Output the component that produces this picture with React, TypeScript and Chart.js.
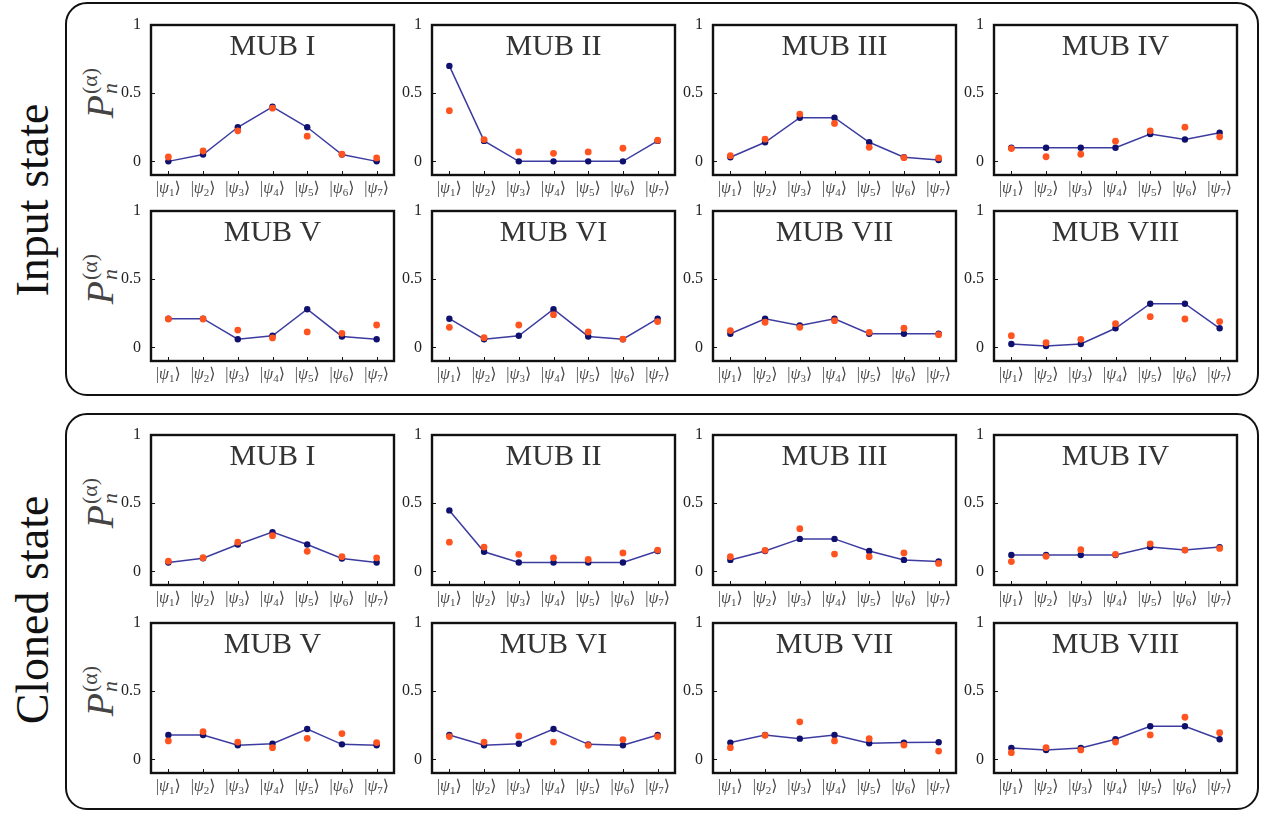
import React, { useEffect, useRef } from "react";
import { Chart, registerables } from "chart.js";

Chart.register(...registerables);

// ---------- data ----------
const ketLabels = ["|ψ₁⟩", "|ψ₂⟩", "|ψ₃⟩", "|ψ₄⟩", "|ψ₅⟩", "|ψ₆⟩", "|ψ₇⟩"];
const ketIndices = ["1", "2", "3", "4", "5", "6", "7"];
const mubTitles = ["MUB I", "MUB II", "MUB III", "MUB IV", "MUB V", "MUB VI", "MUB VII", "MUB VIII"];
const yTickValues = [0, 0.5, 1];

const inputTheory = [
  [0, 0.05, 0.25, 0.4, 0.25, 0.05, 0],
  [0.7, 0.15, 0, 0, 0, 0, 0.15],
  [0.03, 0.14, 0.32, 0.32, 0.14, 0.03, 0.01],
  [0.1, 0.1, 0.1, 0.1, 0.2, 0.16, 0.21],
  [0.21, 0.21, 0.06, 0.085, 0.28, 0.08, 0.06],
  [0.21, 0.06, 0.085, 0.28, 0.08, 0.06, 0.21],
  [0.1, 0.21, 0.16, 0.21, 0.1, 0.1, 0.1],
  [0.025, 0.01, 0.025, 0.14, 0.32, 0.32, 0.14],
];
const inputMeasured = [
  [0.032, 0.076, 0.224, 0.39, 0.185, 0.052, 0.025],
  [0.372, 0.16, 0.069, 0.059, 0.069, 0.096, 0.155],
  [0.042, 0.163, 0.347, 0.278, 0.103, 0.027, 0.025],
  [0.094, 0.034, 0.052, 0.148, 0.224, 0.251, 0.18],
  [0.208, 0.208, 0.127, 0.069, 0.113, 0.103, 0.164],
  [0.147, 0.071, 0.164, 0.24, 0.113, 0.061, 0.189],
  [0.123, 0.184, 0.147, 0.196, 0.11, 0.14, 0.093],
  [0.086, 0.034, 0.059, 0.174, 0.225, 0.208, 0.189],
];
const clonedTheory = [
  [0.065, 0.096, 0.197, 0.288, 0.197, 0.094, 0.065],
  [0.447, 0.144, 0.065, 0.065, 0.065, 0.065, 0.149],
  [0.084, 0.149, 0.238, 0.238, 0.149, 0.084, 0.072],
  [0.12, 0.12, 0.12, 0.12, 0.178, 0.156, 0.178],
  [0.179, 0.179, 0.103, 0.115, 0.223, 0.11, 0.103],
  [0.179, 0.103, 0.115, 0.223, 0.11, 0.103, 0.179],
  [0.123, 0.179, 0.152, 0.179, 0.118, 0.123, 0.125],
  [0.083, 0.069, 0.083, 0.147, 0.243, 0.243, 0.147],
];
const clonedMeasured = [
  [0.075, 0.1, 0.214, 0.262, 0.147, 0.108, 0.099],
  [0.214, 0.178, 0.125, 0.099, 0.087, 0.135, 0.156],
  [0.108, 0.154, 0.313, 0.127, 0.108, 0.135, 0.058],
  [0.072, 0.11, 0.159, 0.125, 0.202, 0.156, 0.168],
  [0.135, 0.203, 0.127, 0.086, 0.154, 0.189, 0.123],
  [0.167, 0.127, 0.172, 0.127, 0.103, 0.145, 0.167],
  [0.086, 0.176, 0.275, 0.135, 0.152, 0.105, 0.061],
  [0.049, 0.086, 0.069, 0.127, 0.179, 0.309, 0.196],
];

// ---------- layout / style ----------
const SERIF = "'Liberation Serif', 'DejaVu Serif', serif";
const COLS = [151, 432, 713, 994];
const ROWS = [25, 211, 435, 623];
const BOX_W = 243;
const BOX_H = 150;
const PAD_L = 45;
const PAD_T = 12;
const PAD_R = 6;
const PAD_B = 34;
const Y_MIN = -0.1;
const Y_MAX = 1;
const NAVY = "#10106e";
const LINE = "#3c3ca0";
const ORANGE = "#ff5420";

function makeFramePlugin(title: string) {
  return {
    id: "frame",
    afterDraw(chart: any) {
      const { ctx, chartArea } = chart;
      const { left, top, right, bottom } = chartArea;
      ctx.save();
      ctx.strokeStyle = "#111";
      ctx.lineWidth = 1;
      const ys = chart.scales.y;
      const xs = chart.scales.x;
      yTickValues.forEach((v) => {
        const y = Math.round(ys.getPixelForValue(v)) + 0.5;
        ctx.beginPath();
        ctx.moveTo(left, y);
        ctx.lineTo(left + 4, y);
        ctx.stroke();
      });
      ketIndices.forEach((_, i) => {
        const x = Math.round(xs.getPixelForValue(i)) + 0.5;
        ctx.beginPath();
        ctx.moveTo(x, bottom);
        ctx.lineTo(x, bottom - 4);
        ctx.stroke();
      });
      ctx.lineWidth = 2.4;
      ctx.strokeRect(left, top, right - left, bottom - top);

      // ket labels |ψ_n⟩ with a real subscript
      ctx.fillStyle = "#4a4a4a";
      ctx.textBaseline = "alphabetic";
      ctx.textAlign = "left";
      const fMain = `16px ${SERIF}`;
      const fItal = `italic 16px ${SERIF}`;
      const fSub = `11px ${SERIF}`;
      const baseY = bottom + 18;
      ketIndices.forEach((d, i) => {
        const cx = xs.getPixelForValue(i);
        const parts = [
          { t: "|", f: fMain, dy: 0 },
          { t: "ψ", f: fItal, dy: 0 },
          { t: d, f: fSub, dy: 3 },
          { t: "⟩", f: fMain, dy: 0 },
        ];
        let total = 0;
        const widths = parts.map((p) => {
          ctx.font = p.f;
          const w = ctx.measureText(p.t).width;
          total += w;
          return w;
        });
        let x = cx - total / 2;
        parts.forEach((p, k) => {
          ctx.font = p.f;
          ctx.fillText(p.t, x, baseY + p.dy);
          x += widths[k];
        });
      });

      ctx.fillStyle = "#333";
      ctx.font = `30px ${SERIF}`;
      ctx.textAlign = "center";
      ctx.fillText(title, (left + right) / 2, top + 30);
      ctx.restore();
    },
  };
}

function Panel(props: { title: string; theory: number[]; measured: number[]; left: number; top: number }) {
  const ref = useRef<HTMLCanvasElement | null>(null);
  const w = BOX_W + PAD_L + PAD_R;
  const h = BOX_H + PAD_T + PAD_B;
  useEffect(() => {
    if (!ref.current) return;
    const chart = new Chart(ref.current, {
      type: "line",
      data: {
        labels: ketLabels,
        datasets: [
          {
            data: props.measured,
            showLine: false,
            borderColor: ORANGE,
            backgroundColor: ORANGE,
            pointBackgroundColor: ORANGE,
            pointBorderWidth: 0,
            pointRadius: 3.4,
            order: 0,
          },
          {
            data: props.theory,
            borderColor: LINE,
            borderWidth: 1.5,
            backgroundColor: NAVY,
            pointBackgroundColor: NAVY,
            pointBorderColor: NAVY,
            pointBorderWidth: 0,
            pointRadius: 3.2,
            tension: 0,
            order: 1,
          },
        ],
      },
      options: {
        responsive: false,
        animation: false,
        devicePixelRatio: 1,
        layout: { padding: { top: PAD_T, right: PAD_R, left: 0, bottom: 0 } },
        plugins: { legend: { display: false }, tooltip: { enabled: false } },
        scales: {
          x: {
            type: "category",
            offset: true,
            grid: { display: false },
            border: { display: false },
            ticks: { display: false },
            afterFit: (s: any) => {
              s.height = PAD_B;
            },
          },
          y: {
            min: Y_MIN,
            max: Y_MAX,
            grid: { display: false },
            border: { display: false },
            afterBuildTicks: (s: any) => {
              s.ticks = yTickValues.map((v) => ({ value: v }));
            },
            ticks: {
              callback: (v: any) => (v === 0.5 ? "0.5" : String(v)),
              font: { family: SERIF, size: 16 },
              color: "#222",
              padding: 2,
            },
            afterFit: (s: any) => {
              s.width = PAD_L;
            },
          },
        },
      } as any,
      plugins: [makeFramePlugin(props.title)],
    });
    return () => chart.destroy();
  }, []);
  return (
    <canvas
      ref={ref}
      width={w}
      height={h}
      style={{ position: "absolute", left: props.left - PAD_L, top: props.top - PAD_T, width: w, height: h }}
    />
  );
}

function PLabel(props: { cy: number }) {
  return (
    <div
      style={{
        position: "absolute",
        left: 100,
        top: props.cy,
        transform: "translate(-50%, -50%) rotate(-90deg)",
        display: "flex",
        alignItems: "center",
        color: "#444",
        fontFamily: SERIF,
        whiteSpace: "nowrap",
      }}
    >
      <span style={{ fontStyle: "italic", fontSize: 38, lineHeight: 1 }}>P</span>
      <span
        style={{
          display: "inline-flex",
          flexDirection: "column",
          fontSize: 22,
          lineHeight: 0.9,
          marginLeft: 1,
          alignItems: "flex-start",
        }}
      >
        <span>(α)</span>
        <span style={{ fontStyle: "italic" }}>n</span>
      </span>
    </div>
  );
}

function GroupLabel(props: { text: string; cy: number }) {
  return (
    <div
      style={{
        position: "absolute",
        left: 33,
        top: props.cy,
        transform: "translate(-50%, -50%) rotate(-90deg)",
        fontFamily: SERIF,
        fontSize: 46,
        lineHeight: 1,
        color: "#111",
        whiteSpace: "nowrap",
      }}
    >
      {props.text}
    </div>
  );
}

export default function App() {
  const groups = [
    { theory: inputTheory, measured: inputMeasured, rowIdx: [0, 1] },
    { theory: clonedTheory, measured: clonedMeasured, rowIdx: [2, 3] },
  ];
  const panels: any[] = [];
  groups.forEach((g, gi) => {
    for (let k = 0; k < 8; k++) {
      const r = g.rowIdx[Math.floor(k / 4)];
      const c = k % 4;
      panels.push(
        <Panel
          key={`${gi}-${k}`}
          title={mubTitles[k]}
          theory={g.theory[k]}
          measured={g.measured[k]}
          left={COLS[c]}
          top={ROWS[r]}
        />
      );
    }
  });
  const y05 = (top: number) => top + ((Y_MAX - 0.5) / (Y_MAX - Y_MIN)) * BOX_H;
  return (
    <div style={{ position: "absolute", left: 0, top: 0, width: 1263, height: 813, background: "#fff", overflow: "hidden" }}>
      <div
        style={{
          position: "absolute",
          left: 65,
          top: 2,
          width: 1194,
          height: 394,
          border: "2px solid #111",
          borderRadius: 22,
          boxSizing: "border-box",
        }}
      />
      <div
        style={{
          position: "absolute",
          left: 65,
          top: 413,
          width: 1194,
          height: 397,
          border: "2px solid #111",
          borderRadius: 22,
          boxSizing: "border-box",
        }}
      />
      <GroupLabel text="Input state" cy={200} />
      <GroupLabel text="Cloned state" cy={610} />
      {ROWS.map((t, i) => (
        <PLabel key={i} cy={y05(t)} />
      ))}
      {panels}
    </div>
  );
}
